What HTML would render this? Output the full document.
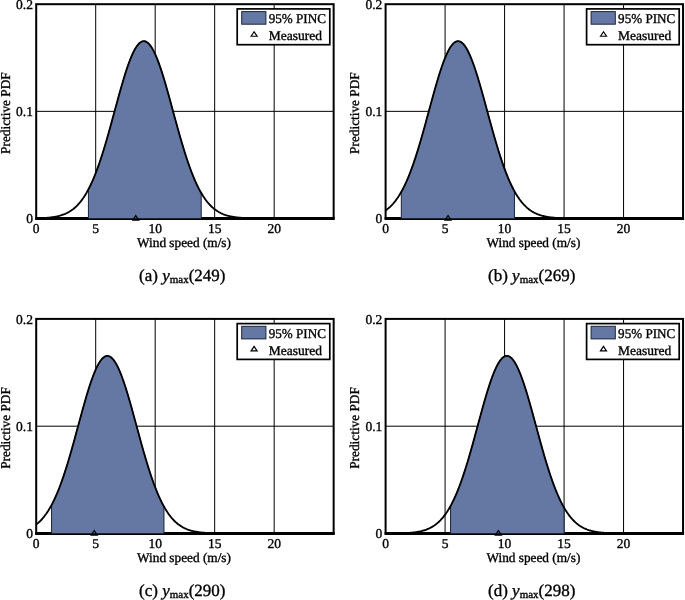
<!DOCTYPE html><html><head><meta charset="utf-8"><style>html,body{margin:0;padding:0;background:#fff;overflow:hidden;}svg{display:block;will-change:transform;}text{font-family:"Liberation Serif",serif;text-rendering:geometricPrecision;fill:#000;stroke:#000;stroke-width:0.35px;}</style></head><body>
<svg width="685" height="600" viewBox="0 0 685 600">
<rect x="36.20" y="4.20" width="297.45" height="214.30" fill="none" stroke="#000" stroke-width="2"/>
<line x1="35.20" y1="218.50" x2="334.65" y2="218.50" stroke="#000" stroke-width="2.8"/>
<line x1="95.69" y1="4.20" x2="95.69" y2="218.50" stroke="#000" stroke-width="1"/>
<line x1="155.18" y1="4.20" x2="155.18" y2="218.50" stroke="#000" stroke-width="1"/>
<line x1="214.67" y1="4.20" x2="214.67" y2="218.50" stroke="#000" stroke-width="1"/>
<line x1="274.16" y1="4.20" x2="274.16" y2="218.50" stroke="#000" stroke-width="1"/>
<line x1="36.20" y1="111.35" x2="333.65" y2="111.35" stroke="#000" stroke-width="1"/>
<path d="M88.43,218.50 L88.43,189.33 L89.00,188.25 L89.56,187.13 L90.12,185.99 L90.69,184.81 L91.25,183.61 L91.82,182.38 L92.38,181.12 L92.94,179.83 L93.51,178.51 L94.07,177.16 L94.64,175.78 L95.20,174.37 L95.76,172.93 L96.33,171.46 L96.89,169.96 L97.46,168.44 L98.02,166.88 L98.58,165.30 L99.15,163.69 L99.71,162.05 L100.28,160.38 L100.84,158.69 L101.40,156.97 L101.97,155.23 L102.53,153.46 L103.10,151.66 L103.66,149.84 L104.22,148.00 L104.79,146.14 L105.35,144.26 L105.92,142.35 L106.48,140.42 L107.04,138.48 L107.61,136.52 L108.17,134.54 L108.73,132.55 L109.30,130.54 L109.86,128.52 L110.43,126.48 L110.99,124.44 L111.55,122.38 L112.12,120.32 L112.68,118.25 L113.25,116.18 L113.81,114.10 L114.37,112.02 L114.94,109.94 L115.50,107.86 L116.07,105.78 L116.63,103.71 L117.19,101.64 L117.76,99.58 L118.32,97.53 L118.89,95.49 L119.45,93.46 L120.01,91.44 L120.58,89.44 L121.14,87.46 L121.71,85.50 L122.27,83.56 L122.83,81.64 L123.40,79.75 L123.96,77.88 L124.53,76.04 L125.09,74.23 L125.65,72.46 L126.22,70.71 L126.78,69.00 L127.35,67.33 L127.91,65.70 L128.47,64.11 L129.04,62.56 L129.60,61.05 L130.17,59.59 L130.73,58.17 L131.29,56.80 L131.86,55.48 L132.42,54.21 L132.99,53.00 L133.55,51.83 L134.11,50.73 L134.68,49.67 L135.24,48.68 L135.81,47.74 L136.37,46.86 L136.93,46.04 L137.50,45.29 L138.06,44.59 L138.63,43.96 L139.19,43.39 L139.75,42.88 L140.32,42.44 L140.88,42.06 L141.44,41.75 L142.01,41.51 L142.57,41.33 L143.14,41.22 L143.70,41.17 L144.26,41.19 L144.83,41.27 L145.39,41.43 L145.96,41.64 L146.52,41.93 L147.08,42.28 L147.65,42.69 L148.21,43.17 L148.78,43.71 L149.34,44.32 L149.90,44.99 L150.47,45.72 L151.03,46.52 L151.60,47.37 L152.16,48.28 L152.72,49.25 L153.29,50.28 L153.85,51.37 L154.42,52.51 L154.98,53.70 L155.54,54.95 L156.11,56.25 L156.67,57.60 L157.24,58.99 L157.80,60.44 L158.36,61.93 L158.93,63.46 L159.49,65.04 L160.06,66.65 L160.62,68.31 L161.18,70.00 L161.75,71.73 L162.31,73.50 L162.88,75.29 L163.44,77.12 L164.00,78.97 L164.57,80.86 L165.13,82.76 L165.70,84.70 L166.26,86.65 L166.82,88.62 L167.39,90.61 L167.95,92.62 L168.52,94.65 L169.08,96.68 L169.64,98.73 L170.21,100.79 L170.77,102.85 L171.34,104.93 L171.90,107.00 L172.46,109.08 L173.03,111.16 L173.59,113.24 L174.15,115.32 L174.72,117.40 L175.28,119.47 L175.85,121.53 L176.41,123.59 L176.97,125.64 L177.54,127.68 L178.10,129.70 L178.67,131.72 L179.23,133.72 L179.79,135.70 L180.36,137.67 L180.92,139.62 L181.49,141.56 L182.05,143.47 L182.61,145.36 L183.18,147.24 L183.74,149.09 L184.31,150.91 L184.87,152.72 L185.43,154.50 L186.00,156.25 L186.56,157.98 L187.13,159.69 L187.69,161.36 L188.25,163.01 L188.82,164.64 L189.38,166.23 L189.95,167.80 L190.51,169.34 L191.07,170.85 L191.64,172.33 L192.20,173.78 L192.77,175.20 L193.33,176.59 L193.89,177.95 L194.46,179.29 L195.02,180.59 L195.59,181.86 L196.15,183.11 L196.71,184.32 L197.28,185.51 L197.84,186.66 L198.41,187.79 L198.97,188.89 L199.53,189.96 L200.10,191.00 L200.66,192.01 L201.23,193.00 L201.23,218.50 Z" fill="#6478A3" stroke="#1c2438" stroke-width="1"/>
<path d="M36.20,218.31 L36.94,218.29 L37.69,218.27 L38.43,218.24 L39.17,218.22 L39.92,218.19 L40.66,218.16 L41.41,218.13 L42.15,218.10 L42.89,218.06 L43.64,218.02 L44.38,217.97 L45.12,217.93 L45.87,217.87 L46.61,217.82 L47.35,217.76 L48.10,217.69 L48.84,217.62 L49.59,217.55 L50.33,217.46 L51.07,217.38 L51.82,217.28 L52.56,217.18 L53.30,217.07 L54.05,216.95 L54.79,216.83 L55.53,216.69 L56.28,216.55 L57.02,216.39 L57.77,216.23 L58.51,216.05 L59.25,215.86 L60.00,215.66 L60.74,215.44 L61.48,215.22 L62.23,214.97 L62.97,214.71 L63.71,214.44 L64.46,214.14 L65.20,213.83 L65.94,213.50 L66.69,213.15 L67.43,212.78 L68.18,212.38 L68.92,211.97 L69.66,211.52 L70.41,211.06 L71.15,210.57 L71.89,210.05 L72.64,209.50 L73.38,208.93 L74.12,208.32 L74.87,207.69 L75.61,207.02 L76.36,206.32 L77.10,205.58 L77.84,204.81 L78.59,204.00 L79.33,203.15 L80.07,202.27 L80.82,201.34 L81.56,200.37 L82.30,199.36 L83.05,198.31 L83.79,197.22 L84.54,196.08 L85.28,194.89 L86.02,193.66 L86.77,192.38 L87.51,191.05 L88.25,189.67 L89.00,188.24 L89.74,186.77 L90.48,185.24 L91.23,183.66 L91.97,182.03 L92.72,180.35 L93.46,178.62 L94.20,176.84 L94.95,175.00 L95.69,173.12 L96.43,171.18 L97.18,169.19 L97.92,167.16 L98.66,165.07 L99.41,162.94 L100.15,160.75 L100.90,158.52 L101.64,156.25 L102.38,153.93 L103.13,151.56 L103.87,149.16 L104.61,146.72 L105.36,144.24 L106.10,141.72 L106.84,139.17 L107.59,136.58 L108.33,133.97 L109.08,131.34 L109.82,128.67 L110.56,125.99 L111.31,123.29 L112.05,120.57 L112.79,117.85 L113.54,115.11 L114.28,112.37 L115.02,109.62 L115.77,106.88 L116.51,104.15 L117.26,101.42 L118.00,98.70 L118.74,96.01 L119.49,93.33 L120.23,90.68 L120.97,88.05 L121.72,85.46 L122.46,82.91 L123.20,80.40 L123.95,77.93 L124.69,75.51 L125.44,73.14 L126.18,70.83 L126.92,68.59 L127.67,66.40 L128.41,64.29 L129.15,62.24 L129.90,60.28 L130.64,58.39 L131.38,56.59 L132.13,54.87 L132.87,53.24 L133.61,51.70 L134.36,50.26 L135.10,48.92 L135.85,47.68 L136.59,46.54 L137.33,45.50 L138.08,44.57 L138.82,43.75 L139.56,43.04 L140.31,42.45 L141.05,41.96 L141.79,41.59 L142.54,41.34 L143.28,41.20 L144.03,41.17 L144.77,41.26 L145.51,41.47 L146.26,41.79 L147.00,42.22 L147.74,42.77 L148.49,43.43 L149.23,44.20 L149.97,45.08 L150.72,46.07 L151.46,47.16 L152.21,48.36 L152.95,49.66 L153.69,51.06 L154.44,52.55 L155.18,54.14 L155.92,55.82 L156.67,57.59 L157.41,59.44 L158.15,61.37 L158.90,63.38 L159.64,65.46 L160.39,67.62 L161.13,69.84 L161.87,72.12 L162.62,74.46 L163.36,76.86 L164.10,79.30 L164.85,81.80 L165.59,84.33 L166.33,86.91 L167.08,89.52 L167.82,92.16 L168.57,94.83 L169.31,97.52 L170.05,100.22 L170.80,102.95 L171.54,105.68 L172.28,108.42 L173.03,111.16 L173.77,113.90 L174.51,116.64 L175.26,119.38 L176.00,122.10 L176.75,124.81 L177.49,127.50 L178.23,130.17 L178.98,132.82 L179.72,135.44 L180.46,138.03 L181.21,140.60 L181.95,143.13 L182.69,145.63 L183.44,148.09 L184.18,150.51 L184.93,152.89 L185.67,155.23 L186.41,157.53 L187.16,159.78 L187.90,161.98 L188.64,164.14 L189.39,166.25 L190.13,168.30 L190.87,170.31 L191.62,172.27 L192.36,174.18 L193.10,176.04 L193.85,177.84 L194.59,179.60 L195.34,181.30 L196.08,182.95 L196.82,184.55 L197.57,186.10 L198.31,187.60 L199.05,189.05 L199.80,190.45 L200.54,191.80 L201.28,193.10 L202.03,194.35 L202.77,195.56 L203.52,196.72 L204.26,197.84 L205.00,198.91 L205.75,199.93 L206.49,200.92 L207.23,201.86 L207.98,202.77 L208.72,203.63 L209.46,204.46 L210.21,205.24 L210.95,206.00 L211.70,206.71 L212.44,207.40 L213.18,208.05 L213.93,208.67 L214.67,209.25 L215.41,209.81 L216.16,210.34 L216.90,210.85 L217.64,211.32 L218.39,211.77 L219.13,212.20 L219.88,212.60 L220.62,212.99 L221.36,213.35 L222.11,213.69 L222.85,214.01 L223.59,214.31 L224.34,214.59 L225.08,214.86 L225.82,215.11 L226.57,215.35 L227.31,215.57 L228.06,215.77 L228.80,215.97 L229.54,216.15 L230.29,216.32 L231.03,216.48 L231.77,216.63 L232.52,216.77 L233.26,216.90 L234.00,217.02 L234.75,217.13 L235.49,217.24 L236.24,217.34 L236.98,217.43 L237.72,217.51 L238.47,217.59 L239.21,217.66 L239.95,217.73 L240.70,217.79 L241.44,217.85 L242.18,217.90 L242.93,217.95 L243.67,218.00 L244.42,218.04 L245.16,218.08 L245.90,218.11 L246.65,218.15 L247.39,218.18 L248.13,218.21 L248.88,218.23 L249.62,218.26 L250.36,218.28 L251.11,218.30 L251.85,218.32 L252.59,218.33 L253.34,218.35 L254.08,218.36 L254.83,218.37 L255.57,218.39 L256.31,218.40 L257.06,218.41 L257.80,218.42 L258.54,218.42 L259.29,218.43 L260.03,218.44 L260.77,218.44 L261.52,218.45 L262.26,218.45 L263.01,218.46 L263.75,218.46 L264.49,218.47 L265.24,218.47 L265.98,218.47 L266.72,218.48 L267.47,218.48 L268.21,218.48 L268.95,218.48 L269.70,218.48 L270.44,218.49 L271.19,218.49 L271.93,218.49 L272.67,218.49 L273.42,218.49 L274.16,218.49 L274.90,218.49 L275.65,218.49 L276.39,218.49 L277.13,218.49 L277.88,218.50 L278.62,218.50 L279.37,218.50 L280.11,218.50 L280.85,218.50 L281.60,218.50 L282.34,218.50 L283.08,218.50 L283.83,218.50 L284.57,218.50 L285.31,218.50 L286.06,218.50 L286.80,218.50 L287.55,218.50 L288.29,218.50 L289.03,218.50 L289.78,218.50 L290.52,218.50 L291.26,218.50 L292.01,218.50 L292.75,218.50 L293.49,218.50 L294.24,218.50 L294.98,218.50 L295.73,218.50 L296.47,218.50 L297.21,218.50 L297.96,218.50 L298.70,218.50 L299.44,218.50 L300.19,218.50 L300.93,218.50 L301.67,218.50 L302.42,218.50 L303.16,218.50 L303.90,218.50 L304.65,218.50 L305.39,218.50 L306.14,218.50 L306.88,218.50 L307.62,218.50 L308.37,218.50 L309.11,218.50 L309.85,218.50 L310.60,218.50 L311.34,218.50 L312.08,218.50 L312.83,218.50 L313.57,218.50 L314.32,218.50 L315.06,218.50 L315.80,218.50 L316.55,218.50 L317.29,218.50 L318.03,218.50 L318.78,218.50 L319.52,218.50 L320.26,218.50 L321.01,218.50 L321.75,218.50 L322.50,218.50 L323.24,218.50 L323.98,218.50 L324.73,218.50 L325.47,218.50 L326.21,218.50 L326.96,218.50 L327.70,218.50 L328.44,218.50 L329.19,218.50 L329.93,218.50 L330.68,218.50 L331.42,218.50 L332.16,218.50 L332.91,218.50 L333.65,218.50" fill="none" stroke="#000" stroke-width="1.85" stroke-linejoin="round"/>
<path d="M132.79,220.05 L135.79,215.55 L138.79,220.05 Z" fill="none" stroke="#000" stroke-width="1.2" stroke-linejoin="miter"/>
<rect x="237.20" y="8.90" width="92.60" height="35.80" fill="#fff" stroke="#000" stroke-width="1.7"/>
<rect x="241.70" y="11.60" width="24.2" height="12.6" fill="#6478A3" stroke="#1c2438" stroke-width="1"/>
<text x="268.70" y="22.80" font-size="13.5" textLength="57.2" lengthAdjust="spacingAndGlyphs">95% PINC</text>
<path d="M251.10,36.25 L254.10,31.75 L257.10,36.25 Z" fill="none" stroke="#000" stroke-width="1.2" stroke-linejoin="miter"/>
<text x="268.70" y="40.30" font-size="13.5">Measured</text>
<text x="32.90" y="223.40" font-size="13.5" text-anchor="end">0</text>
<text x="32.90" y="116.25" font-size="13.5" text-anchor="end">0.1</text>
<text x="32.90" y="9.10" font-size="13.5" text-anchor="end">0.2</text>
<text x="36.20" y="232.60" font-size="13.5" text-anchor="middle">0</text>
<text x="95.69" y="232.60" font-size="13.5" text-anchor="middle">5</text>
<text x="155.18" y="232.60" font-size="13.5" text-anchor="middle">10</text>
<text x="214.67" y="232.60" font-size="13.5" text-anchor="middle">15</text>
<text x="274.16" y="232.60" font-size="13.5" text-anchor="middle">20</text>
<text x="184.02" y="247.20" font-size="13.5" text-anchor="middle" textLength="93.9" lengthAdjust="spacingAndGlyphs">Wind speed (m/s)</text>
<text transform="translate(10.00,113.10) rotate(-90)" font-size="13.5" text-anchor="middle" textLength="81.6" lengthAdjust="spacingAndGlyphs">Predictive PDF</text>
<text x="182.32" y="281.10" font-size="17" text-anchor="middle">(a) <tspan font-style="italic">y</tspan><tspan font-size="11" dy="1.6">max</tspan><tspan dy="-1.6">(249)</tspan></text>
<rect x="385.60" y="4.20" width="297.45" height="214.30" fill="none" stroke="#000" stroke-width="2"/>
<line x1="384.60" y1="218.50" x2="684.05" y2="218.50" stroke="#000" stroke-width="2.8"/>
<line x1="445.09" y1="4.20" x2="445.09" y2="218.50" stroke="#000" stroke-width="1"/>
<line x1="504.58" y1="4.20" x2="504.58" y2="218.50" stroke="#000" stroke-width="1"/>
<line x1="564.07" y1="4.20" x2="564.07" y2="218.50" stroke="#000" stroke-width="1"/>
<line x1="623.56" y1="4.20" x2="623.56" y2="218.50" stroke="#000" stroke-width="1"/>
<line x1="385.60" y1="111.35" x2="683.05" y2="111.35" stroke="#000" stroke-width="1"/>
<path d="M401.31,218.50 L401.31,191.85 L401.87,190.83 L402.44,189.78 L403.00,188.70 L403.57,187.60 L404.13,186.46 L404.70,185.30 L405.27,184.10 L405.83,182.88 L406.40,181.62 L406.96,180.34 L407.53,179.03 L408.09,177.68 L408.66,176.31 L409.23,174.91 L409.79,173.48 L410.36,172.02 L410.92,170.52 L411.49,169.00 L412.05,167.46 L412.62,165.88 L413.19,164.27 L413.75,162.64 L414.32,160.98 L414.88,159.29 L415.45,157.57 L416.01,155.83 L416.58,154.06 L417.15,152.27 L417.71,150.46 L418.28,148.62 L418.84,146.75 L419.41,144.87 L419.98,142.96 L420.54,141.04 L421.11,139.10 L421.67,137.13 L422.24,135.15 L422.80,133.16 L423.37,131.15 L423.94,129.12 L424.50,127.09 L425.07,125.04 L425.63,122.98 L426.20,120.91 L426.76,118.84 L427.33,116.76 L427.90,114.68 L428.46,112.59 L429.03,110.51 L429.59,108.42 L430.16,106.33 L430.72,104.25 L431.29,102.18 L431.86,100.11 L432.42,98.04 L432.99,95.99 L433.55,93.96 L434.12,91.93 L434.68,89.92 L435.25,87.93 L435.82,85.96 L436.38,84.00 L436.95,82.07 L437.51,80.17 L438.08,78.29 L438.64,76.44 L439.21,74.62 L439.78,72.83 L440.34,71.07 L440.91,69.35 L441.47,67.67 L442.04,66.02 L442.61,64.41 L443.17,62.85 L443.74,61.33 L444.30,59.85 L444.87,58.42 L445.43,57.04 L446.00,55.71 L446.57,54.43 L447.13,53.20 L447.70,52.02 L448.26,50.90 L448.83,49.84 L449.39,48.83 L449.96,47.88 L450.53,46.99 L451.09,46.16 L451.66,45.39 L452.22,44.69 L452.79,44.04 L453.35,43.46 L453.92,42.95 L454.49,42.49 L455.05,42.11 L455.62,41.79 L456.18,41.53 L456.75,41.35 L457.31,41.22 L457.88,41.17 L458.45,41.18 L459.01,41.26 L459.58,41.41 L460.14,41.62 L460.71,41.90 L461.27,42.24 L461.84,42.65 L462.41,43.13 L462.97,43.67 L463.54,44.27 L464.10,44.94 L464.67,45.67 L465.24,46.46 L465.80,47.31 L466.37,48.22 L466.93,49.20 L467.50,50.22 L468.06,51.31 L468.63,52.45 L469.20,53.65 L469.76,54.90 L470.33,56.20 L470.89,57.55 L471.46,58.95 L472.02,60.39 L472.59,61.89 L473.16,63.42 L473.72,65.00 L474.29,66.62 L474.85,68.28 L475.42,69.98 L475.98,71.72 L476.55,73.49 L477.12,75.29 L477.68,77.12 L478.25,78.98 L478.81,80.87 L479.38,82.78 L479.94,84.72 L480.51,86.68 L481.08,88.66 L481.64,90.66 L482.21,92.68 L482.77,94.71 L483.34,96.75 L483.90,98.80 L484.47,100.87 L485.04,102.94 L485.60,105.02 L486.17,107.10 L486.73,109.19 L487.30,111.28 L487.87,113.36 L488.43,115.45 L489.00,117.53 L489.56,119.61 L490.13,121.68 L490.69,123.74 L491.26,125.80 L491.83,127.84 L492.39,129.87 L492.96,131.89 L493.52,133.90 L494.09,135.89 L494.65,137.86 L495.22,139.82 L495.79,141.75 L496.35,143.67 L496.92,145.57 L497.48,147.44 L498.05,149.30 L498.61,151.13 L499.18,152.94 L499.75,154.72 L500.31,156.48 L500.88,158.21 L501.44,159.91 L502.01,161.59 L502.57,163.24 L503.14,164.87 L503.71,166.46 L504.27,168.03 L504.84,169.57 L505.40,171.08 L505.97,172.56 L506.53,174.01 L507.10,175.43 L507.67,176.82 L508.23,178.18 L508.80,179.52 L509.36,180.82 L509.93,182.09 L510.50,183.33 L511.06,184.55 L511.63,185.73 L512.19,186.88 L512.76,188.01 L513.32,189.10 L513.89,190.17 L514.46,191.21 L514.46,218.50 Z" fill="#6478A3" stroke="#1c2438" stroke-width="1"/>
<path d="M385.60,210.43 L386.34,209.90 L387.09,209.35 L387.83,208.76 L388.57,208.15 L389.32,207.50 L390.06,206.83 L390.81,206.11 L391.55,205.37 L392.29,204.58 L393.04,203.77 L393.78,202.91 L394.52,202.01 L395.27,201.07 L396.01,200.09 L396.75,199.07 L397.50,198.01 L398.24,196.90 L398.99,195.75 L399.73,194.55 L400.47,193.30 L401.22,192.01 L401.96,190.67 L402.70,189.28 L403.45,187.84 L404.19,186.35 L404.93,184.80 L405.68,183.21 L406.42,181.57 L407.17,179.87 L407.91,178.13 L408.65,176.33 L409.40,174.48 L410.14,172.58 L410.88,170.63 L411.63,168.63 L412.37,166.58 L413.11,164.48 L413.86,162.33 L414.60,160.13 L415.35,157.89 L416.09,155.60 L416.83,153.27 L417.58,150.89 L418.32,148.48 L419.06,146.03 L419.81,143.53 L420.55,141.01 L421.29,138.45 L422.04,135.86 L422.78,133.24 L423.52,130.59 L424.27,127.93 L425.01,125.24 L425.76,122.53 L426.50,119.81 L427.24,117.08 L427.99,114.34 L428.73,111.60 L429.47,108.86 L430.22,106.12 L430.96,103.38 L431.70,100.66 L432.45,97.95 L433.19,95.26 L433.94,92.58 L434.68,89.94 L435.42,87.33 L436.17,84.74 L436.91,82.20 L437.65,79.70 L438.40,77.25 L439.14,74.84 L439.88,72.49 L440.63,70.20 L441.37,67.97 L442.12,65.80 L442.86,63.71 L443.60,61.69 L444.35,59.74 L445.09,57.88 L445.83,56.10 L446.58,54.40 L447.32,52.80 L448.06,51.29 L448.81,49.88 L449.55,48.56 L450.30,47.35 L451.04,46.23 L451.78,45.23 L452.53,44.33 L453.27,43.54 L454.01,42.87 L454.76,42.30 L455.50,41.85 L456.24,41.51 L456.99,41.29 L457.73,41.18 L458.48,41.18 L459.22,41.31 L459.96,41.54 L460.71,41.90 L461.45,42.36 L462.19,42.94 L462.94,43.63 L463.68,44.43 L464.42,45.34 L465.17,46.36 L465.91,47.49 L466.66,48.71 L467.40,50.04 L468.14,51.47 L468.89,52.99 L469.63,54.60 L470.37,56.31 L471.12,58.10 L471.86,59.97 L472.60,61.92 L473.35,63.95 L474.09,66.06 L474.84,68.23 L475.58,70.47 L476.32,72.77 L477.07,75.13 L477.81,77.54 L478.55,80.00 L479.30,82.50 L480.04,85.05 L480.78,87.64 L481.53,90.26 L482.27,92.90 L483.01,95.58 L483.76,98.27 L484.50,100.98 L485.25,103.71 L485.99,106.44 L486.73,109.19 L487.48,111.93 L488.22,114.67 L488.96,117.41 L489.71,120.14 L490.45,122.86 L491.19,125.56 L491.94,128.25 L492.68,130.91 L493.43,133.55 L494.17,136.17 L494.91,138.76 L495.66,141.31 L496.40,143.83 L497.14,146.32 L497.89,148.77 L498.63,151.18 L499.37,153.55 L500.12,155.88 L500.86,158.16 L501.61,160.40 L502.35,162.59 L503.09,164.73 L503.84,166.83 L504.58,168.87 L505.32,170.87 L506.07,172.81 L506.81,174.71 L507.55,176.55 L508.30,178.34 L509.04,180.08 L509.79,181.77 L510.53,183.41 L511.27,184.99 L512.02,186.53 L512.76,188.01 L513.50,189.45 L514.25,190.83 L514.99,192.17 L515.73,193.46 L516.48,194.70 L517.22,195.89 L517.97,197.04 L518.71,198.14 L519.45,199.20 L520.20,200.21 L520.94,201.19 L521.68,202.12 L522.43,203.01 L523.17,203.87 L523.91,204.68 L524.66,205.46 L525.40,206.20 L526.15,206.91 L526.89,207.58 L527.63,208.22 L528.38,208.83 L529.12,209.41 L529.86,209.96 L530.61,210.49 L531.35,210.98 L532.09,211.45 L532.84,211.90 L533.58,212.32 L534.33,212.71 L535.07,213.09 L535.81,213.44 L536.56,213.78 L537.30,214.09 L538.04,214.39 L538.79,214.67 L539.53,214.93 L540.27,215.18 L541.02,215.41 L541.76,215.63 L542.50,215.83 L543.25,216.02 L543.99,216.20 L544.74,216.37 L545.48,216.52 L546.22,216.67 L546.97,216.81 L547.71,216.93 L548.45,217.05 L549.20,217.16 L549.94,217.27 L550.68,217.36 L551.43,217.45 L552.17,217.53 L552.92,217.61 L553.66,217.68 L554.40,217.75 L555.15,217.81 L555.89,217.86 L556.63,217.92 L557.38,217.97 L558.12,218.01 L558.86,218.05 L559.61,218.09 L560.35,218.12 L561.10,218.16 L561.84,218.19 L562.58,218.21 L563.33,218.24 L564.07,218.26 L564.81,218.28 L565.56,218.30 L566.30,218.32 L567.04,218.34 L567.79,218.35 L568.53,218.37 L569.28,218.38 L570.02,218.39 L570.76,218.40 L571.51,218.41 L572.25,218.42 L572.99,218.43 L573.74,218.43 L574.48,218.44 L575.22,218.44 L575.97,218.45 L576.71,218.46 L577.46,218.46 L578.20,218.46 L578.94,218.47 L579.69,218.47 L580.43,218.47 L581.17,218.48 L581.92,218.48 L582.66,218.48 L583.40,218.48 L584.15,218.48 L584.89,218.49 L585.64,218.49 L586.38,218.49 L587.12,218.49 L587.87,218.49 L588.61,218.49 L589.35,218.49 L590.10,218.49 L590.84,218.49 L591.58,218.50 L592.33,218.50 L593.07,218.50 L593.82,218.50 L594.56,218.50 L595.30,218.50 L596.05,218.50 L596.79,218.50 L597.53,218.50 L598.28,218.50 L599.02,218.50 L599.76,218.50 L600.51,218.50 L601.25,218.50 L601.99,218.50 L602.74,218.50 L603.48,218.50 L604.23,218.50 L604.97,218.50 L605.71,218.50 L606.46,218.50 L607.20,218.50 L607.94,218.50 L608.69,218.50 L609.43,218.50 L610.17,218.50 L610.92,218.50 L611.66,218.50 L612.41,218.50 L613.15,218.50 L613.89,218.50 L614.64,218.50 L615.38,218.50 L616.12,218.50 L616.87,218.50 L617.61,218.50 L618.35,218.50 L619.10,218.50 L619.84,218.50 L620.59,218.50 L621.33,218.50 L622.07,218.50 L622.82,218.50 L623.56,218.50 L624.30,218.50 L625.05,218.50 L625.79,218.50 L626.53,218.50 L627.28,218.50 L628.02,218.50 L628.77,218.50 L629.51,218.50 L630.25,218.50 L631.00,218.50 L631.74,218.50 L632.48,218.50 L633.23,218.50 L633.97,218.50 L634.71,218.50 L635.46,218.50 L636.20,218.50 L636.95,218.50 L637.69,218.50 L638.43,218.50 L639.18,218.50 L639.92,218.50 L640.66,218.50 L641.41,218.50 L642.15,218.50 L642.89,218.50 L643.64,218.50 L644.38,218.50 L645.13,218.50 L645.87,218.50 L646.61,218.50 L647.36,218.50 L648.10,218.50 L648.84,218.50 L649.59,218.50 L650.33,218.50 L651.07,218.50 L651.82,218.50 L652.56,218.50 L653.30,218.50 L654.05,218.50 L654.79,218.50 L655.54,218.50 L656.28,218.50 L657.02,218.50 L657.77,218.50 L658.51,218.50 L659.25,218.50 L660.00,218.50 L660.74,218.50 L661.48,218.50 L662.23,218.50 L662.97,218.50 L663.72,218.50 L664.46,218.50 L665.20,218.50 L665.95,218.50 L666.69,218.50 L667.43,218.50 L668.18,218.50 L668.92,218.50 L669.66,218.50 L670.41,218.50 L671.15,218.50 L671.90,218.50 L672.64,218.50 L673.38,218.50 L674.13,218.50 L674.87,218.50 L675.61,218.50 L676.36,218.50 L677.10,218.50 L677.84,218.50 L678.59,218.50 L679.33,218.50 L680.08,218.50 L680.82,218.50 L681.56,218.50 L682.31,218.50 L683.05,218.50" fill="none" stroke="#000" stroke-width="1.85" stroke-linejoin="round"/>
<path d="M445.06,220.05 L448.06,215.55 L451.06,220.05 Z" fill="none" stroke="#000" stroke-width="1.2" stroke-linejoin="miter"/>
<rect x="586.60" y="8.90" width="92.60" height="35.80" fill="#fff" stroke="#000" stroke-width="1.7"/>
<rect x="591.10" y="11.60" width="24.2" height="12.6" fill="#6478A3" stroke="#1c2438" stroke-width="1"/>
<text x="618.10" y="22.80" font-size="13.5" textLength="57.2" lengthAdjust="spacingAndGlyphs">95% PINC</text>
<path d="M600.50,36.25 L603.50,31.75 L606.50,36.25 Z" fill="none" stroke="#000" stroke-width="1.2" stroke-linejoin="miter"/>
<text x="618.10" y="40.30" font-size="13.5">Measured</text>
<text x="382.30" y="223.40" font-size="13.5" text-anchor="end">0</text>
<text x="382.30" y="116.25" font-size="13.5" text-anchor="end">0.1</text>
<text x="382.30" y="9.10" font-size="13.5" text-anchor="end">0.2</text>
<text x="385.60" y="232.60" font-size="13.5" text-anchor="middle">0</text>
<text x="445.09" y="232.60" font-size="13.5" text-anchor="middle">5</text>
<text x="504.58" y="232.60" font-size="13.5" text-anchor="middle">10</text>
<text x="564.07" y="232.60" font-size="13.5" text-anchor="middle">15</text>
<text x="623.56" y="232.60" font-size="13.5" text-anchor="middle">20</text>
<text x="533.43" y="247.20" font-size="13.5" text-anchor="middle" textLength="93.9" lengthAdjust="spacingAndGlyphs">Wind speed (m/s)</text>
<text transform="translate(359.40,113.10) rotate(-90)" font-size="13.5" text-anchor="middle" textLength="81.6" lengthAdjust="spacingAndGlyphs">Predictive PDF</text>
<text x="531.73" y="281.10" font-size="17" text-anchor="middle">(b) <tspan font-style="italic">y</tspan><tspan font-size="11" dy="1.6">max</tspan><tspan dy="-1.6">(269)</tspan></text>
<rect x="36.20" y="318.90" width="297.45" height="214.60" fill="none" stroke="#000" stroke-width="2"/>
<line x1="35.20" y1="533.50" x2="334.65" y2="533.50" stroke="#000" stroke-width="2.8"/>
<line x1="95.69" y1="318.90" x2="95.69" y2="533.50" stroke="#000" stroke-width="1"/>
<line x1="155.18" y1="318.90" x2="155.18" y2="533.50" stroke="#000" stroke-width="1"/>
<line x1="214.67" y1="318.90" x2="214.67" y2="533.50" stroke="#000" stroke-width="1"/>
<line x1="274.16" y1="318.90" x2="274.16" y2="533.50" stroke="#000" stroke-width="1"/>
<line x1="36.20" y1="426.20" x2="333.65" y2="426.20" stroke="#000" stroke-width="1"/>
<path d="M51.55,533.50 L51.55,505.08 L52.11,504.01 L52.67,502.92 L53.23,501.80 L53.80,500.65 L54.36,499.47 L54.92,498.27 L55.48,497.03 L56.05,495.76 L56.61,494.47 L57.17,493.14 L57.73,491.79 L58.29,490.40 L58.86,488.99 L59.42,487.55 L59.98,486.08 L60.54,484.58 L61.11,483.05 L61.67,481.49 L62.23,479.90 L62.79,478.29 L63.35,476.65 L63.92,474.98 L64.48,473.28 L65.04,471.56 L65.60,469.82 L66.17,468.05 L66.73,466.25 L67.29,464.43 L67.85,462.59 L68.41,460.73 L68.98,458.84 L69.54,456.94 L70.10,455.01 L70.66,453.07 L71.22,451.11 L71.79,449.13 L72.35,447.14 L72.91,445.13 L73.47,443.11 L74.04,441.08 L74.60,439.04 L75.16,436.98 L75.72,434.93 L76.28,432.86 L76.85,430.79 L77.41,428.71 L77.97,426.64 L78.53,424.56 L79.10,422.48 L79.66,420.41 L80.22,418.34 L80.78,416.28 L81.34,414.22 L81.91,412.17 L82.47,410.14 L83.03,408.11 L83.59,406.10 L84.15,404.11 L84.72,402.13 L85.28,400.17 L85.84,398.24 L86.40,396.33 L86.97,394.44 L87.53,392.57 L88.09,390.74 L88.65,388.94 L89.21,387.16 L89.78,385.43 L90.34,383.72 L90.90,382.06 L91.46,380.43 L92.03,378.84 L92.59,377.29 L93.15,375.79 L93.71,374.33 L94.27,372.92 L94.84,371.55 L95.40,370.23 L95.96,368.97 L96.52,367.76 L97.09,366.59 L97.65,365.49 L98.21,364.44 L98.77,363.44 L99.33,362.51 L99.90,361.63 L100.46,360.81 L101.02,360.06 L101.58,359.36 L102.14,358.73 L102.71,358.16 L103.27,357.65 L103.83,357.21 L104.39,356.83 L104.96,356.52 L105.52,356.27 L106.08,356.09 L106.64,355.97 L107.20,355.92 L107.77,355.94 L108.33,356.02 L108.89,356.17 L109.45,356.38 L110.02,356.66 L110.58,357.00 L111.14,357.41 L111.70,357.89 L112.26,358.42 L112.83,359.02 L113.39,359.69 L113.95,360.41 L114.51,361.20 L115.07,362.05 L115.64,362.95 L116.20,363.92 L116.76,364.94 L117.32,366.01 L117.89,367.15 L118.45,368.33 L119.01,369.57 L119.57,370.86 L120.13,372.20 L120.70,373.59 L121.26,375.02 L121.82,376.51 L122.38,378.03 L122.95,379.60 L123.51,381.21 L124.07,382.85 L124.63,384.54 L125.19,386.26 L125.76,388.01 L126.32,389.80 L126.88,391.62 L127.44,393.47 L128.00,395.34 L128.57,397.24 L129.13,399.17 L129.69,401.11 L130.25,403.08 L130.82,405.07 L131.38,407.07 L131.94,409.08 L132.50,411.12 L133.06,413.16 L133.63,415.21 L134.19,417.27 L134.75,419.34 L135.31,421.41 L135.88,423.48 L136.44,425.56 L137.00,427.64 L137.56,429.71 L138.12,431.79 L138.69,433.85 L139.25,435.92 L139.81,437.97 L140.37,440.02 L140.94,442.06 L141.50,444.08 L142.06,446.10 L142.62,448.10 L143.18,450.08 L143.75,452.05 L144.31,454.00 L144.87,455.94 L145.43,457.85 L145.99,459.75 L146.56,461.63 L147.12,463.48 L147.68,465.31 L148.24,467.12 L148.81,468.90 L149.37,470.66 L149.93,472.40 L150.49,474.10 L151.05,475.79 L151.62,477.44 L152.18,479.07 L152.74,480.67 L153.30,482.24 L153.87,483.79 L154.43,485.30 L154.99,486.79 L155.55,488.25 L156.11,489.68 L156.68,491.07 L157.24,492.44 L157.80,493.78 L158.36,495.10 L158.92,496.38 L159.49,497.63 L160.05,498.85 L160.61,500.04 L161.17,501.21 L161.74,502.34 L162.30,503.45 L162.86,504.53 L163.42,505.58 L163.98,506.60 L163.98,533.50 Z" fill="#6478A3" stroke="#1c2438" stroke-width="1"/>
<path d="M36.20,524.47 L36.94,523.89 L37.69,523.28 L38.43,522.65 L39.17,521.98 L39.92,521.27 L40.66,520.53 L41.41,519.76 L42.15,518.94 L42.89,518.10 L43.64,517.21 L44.38,516.28 L45.12,515.31 L45.87,514.30 L46.61,513.24 L47.35,512.14 L48.10,511.00 L48.84,509.81 L49.59,508.57 L50.33,507.29 L51.07,505.96 L51.82,504.57 L52.56,503.14 L53.30,501.66 L54.05,500.13 L54.79,498.55 L55.53,496.92 L56.28,495.23 L57.02,493.50 L57.77,491.71 L58.51,489.87 L59.25,487.98 L60.00,486.04 L60.74,484.05 L61.48,482.00 L62.23,479.91 L62.97,477.77 L63.71,475.58 L64.46,473.35 L65.20,471.07 L65.94,468.74 L66.69,466.37 L67.43,463.97 L68.18,461.52 L68.92,459.03 L69.66,456.51 L70.41,453.95 L71.15,451.37 L71.89,448.75 L72.64,446.11 L73.38,443.44 L74.12,440.75 L74.87,438.05 L75.61,435.33 L76.36,432.60 L77.10,429.86 L77.84,427.11 L78.59,424.36 L79.33,421.62 L80.07,418.88 L80.82,416.15 L81.56,413.43 L82.30,410.73 L83.05,408.05 L83.79,405.39 L84.54,402.77 L85.28,400.17 L86.02,397.62 L86.77,395.10 L87.51,392.63 L88.25,390.21 L89.00,387.85 L89.74,385.54 L90.48,383.29 L91.23,381.10 L91.97,378.99 L92.72,376.95 L93.46,374.98 L94.20,373.09 L94.95,371.29 L95.69,369.57 L96.43,367.94 L97.18,366.41 L97.92,364.97 L98.66,363.63 L99.41,362.39 L100.15,361.25 L100.90,360.22 L101.64,359.29 L102.38,358.48 L103.13,357.77 L103.87,357.18 L104.61,356.70 L105.36,356.33 L106.10,356.08 L106.84,355.95 L107.59,355.92 L108.33,356.02 L109.08,356.23 L109.82,356.55 L110.56,356.99 L111.31,357.55 L112.05,358.21 L112.79,358.99 L113.54,359.87 L114.28,360.87 L115.02,361.97 L115.77,363.17 L116.51,364.48 L117.26,365.88 L118.00,367.38 L118.74,368.98 L119.49,370.66 L120.23,372.43 L120.97,374.29 L121.72,376.23 L122.46,378.24 L123.20,380.33 L123.95,382.49 L124.69,384.72 L125.44,387.01 L126.18,389.35 L126.92,391.76 L127.67,394.21 L128.41,396.71 L129.15,399.25 L129.90,401.83 L130.64,404.44 L131.38,407.09 L132.13,409.76 L132.87,412.45 L133.61,415.17 L134.36,417.89 L135.10,420.63 L135.85,423.37 L136.59,426.12 L137.33,428.87 L138.08,431.61 L138.82,434.35 L139.56,437.07 L140.31,439.78 L141.05,442.48 L141.79,445.15 L142.54,447.80 L143.28,450.43 L144.03,453.03 L144.77,455.59 L145.51,458.13 L146.26,460.63 L147.00,463.09 L147.74,465.51 L148.49,467.89 L149.23,470.24 L149.97,472.53 L150.72,474.78 L151.46,476.99 L152.21,479.15 L152.95,481.26 L153.69,483.32 L154.44,485.33 L155.18,487.29 L155.92,489.19 L156.67,491.05 L157.41,492.86 L158.15,494.61 L158.90,496.32 L159.64,497.97 L160.39,499.57 L161.13,501.12 L161.87,502.62 L162.62,504.07 L163.36,505.46 L164.10,506.81 L164.85,508.12 L165.59,509.37 L166.33,510.58 L167.08,511.74 L167.82,512.85 L168.57,513.92 L169.31,514.95 L170.05,515.93 L170.80,516.88 L171.54,517.78 L172.28,518.64 L173.03,519.47 L173.77,520.26 L174.51,521.01 L175.26,521.73 L176.00,522.41 L176.75,523.06 L177.49,523.68 L178.23,524.26 L178.98,524.82 L179.72,525.35 L180.46,525.86 L181.21,526.33 L181.95,526.78 L182.69,527.21 L183.44,527.61 L184.18,527.99 L184.93,528.35 L185.67,528.69 L186.41,529.01 L187.16,529.31 L187.90,529.60 L188.64,529.86 L189.39,530.12 L190.13,530.35 L190.87,530.57 L191.62,530.78 L192.36,530.97 L193.10,531.16 L193.85,531.33 L194.59,531.48 L195.34,531.63 L196.08,531.77 L196.82,531.90 L197.57,532.02 L198.31,532.14 L199.05,532.24 L199.80,532.34 L200.54,532.43 L201.28,532.51 L202.03,532.59 L202.77,532.66 L203.52,532.73 L204.26,532.79 L205.00,532.85 L205.75,532.90 L206.49,532.95 L207.23,533.00 L207.98,533.04 L208.72,533.08 L209.46,533.12 L210.21,533.15 L210.95,533.18 L211.70,533.21 L212.44,533.23 L213.18,533.26 L213.93,533.28 L214.67,533.30 L215.41,533.32 L216.16,533.33 L216.90,533.35 L217.64,533.36 L218.39,533.37 L219.13,533.39 L219.88,533.40 L220.62,533.41 L221.36,533.42 L222.11,533.42 L222.85,533.43 L223.59,533.44 L224.34,533.44 L225.08,533.45 L225.82,533.45 L226.57,533.46 L227.31,533.46 L228.06,533.47 L228.80,533.47 L229.54,533.47 L230.29,533.48 L231.03,533.48 L231.77,533.48 L232.52,533.48 L233.26,533.48 L234.00,533.49 L234.75,533.49 L235.49,533.49 L236.24,533.49 L236.98,533.49 L237.72,533.49 L238.47,533.49 L239.21,533.49 L239.95,533.49 L240.70,533.49 L241.44,533.50 L242.18,533.50 L242.93,533.50 L243.67,533.50 L244.42,533.50 L245.16,533.50 L245.90,533.50 L246.65,533.50 L247.39,533.50 L248.13,533.50 L248.88,533.50 L249.62,533.50 L250.36,533.50 L251.11,533.50 L251.85,533.50 L252.59,533.50 L253.34,533.50 L254.08,533.50 L254.83,533.50 L255.57,533.50 L256.31,533.50 L257.06,533.50 L257.80,533.50 L258.54,533.50 L259.29,533.50 L260.03,533.50 L260.77,533.50 L261.52,533.50 L262.26,533.50 L263.01,533.50 L263.75,533.50 L264.49,533.50 L265.24,533.50 L265.98,533.50 L266.72,533.50 L267.47,533.50 L268.21,533.50 L268.95,533.50 L269.70,533.50 L270.44,533.50 L271.19,533.50 L271.93,533.50 L272.67,533.50 L273.42,533.50 L274.16,533.50 L274.90,533.50 L275.65,533.50 L276.39,533.50 L277.13,533.50 L277.88,533.50 L278.62,533.50 L279.37,533.50 L280.11,533.50 L280.85,533.50 L281.60,533.50 L282.34,533.50 L283.08,533.50 L283.83,533.50 L284.57,533.50 L285.31,533.50 L286.06,533.50 L286.80,533.50 L287.55,533.50 L288.29,533.50 L289.03,533.50 L289.78,533.50 L290.52,533.50 L291.26,533.50 L292.01,533.50 L292.75,533.50 L293.49,533.50 L294.24,533.50 L294.98,533.50 L295.73,533.50 L296.47,533.50 L297.21,533.50 L297.96,533.50 L298.70,533.50 L299.44,533.50 L300.19,533.50 L300.93,533.50 L301.67,533.50 L302.42,533.50 L303.16,533.50 L303.90,533.50 L304.65,533.50 L305.39,533.50 L306.14,533.50 L306.88,533.50 L307.62,533.50 L308.37,533.50 L309.11,533.50 L309.85,533.50 L310.60,533.50 L311.34,533.50 L312.08,533.50 L312.83,533.50 L313.57,533.50 L314.32,533.50 L315.06,533.50 L315.80,533.50 L316.55,533.50 L317.29,533.50 L318.03,533.50 L318.78,533.50 L319.52,533.50 L320.26,533.50 L321.01,533.50 L321.75,533.50 L322.50,533.50 L323.24,533.50 L323.98,533.50 L324.73,533.50 L325.47,533.50 L326.21,533.50 L326.96,533.50 L327.70,533.50 L328.44,533.50 L329.19,533.50 L329.93,533.50 L330.68,533.50 L331.42,533.50 L332.16,533.50 L332.91,533.50 L333.65,533.50" fill="none" stroke="#000" stroke-width="1.85" stroke-linejoin="round"/>
<path d="M91.26,535.05 L94.26,530.55 L97.26,535.05 Z" fill="none" stroke="#000" stroke-width="1.2" stroke-linejoin="miter"/>
<rect x="237.20" y="323.60" width="92.60" height="35.80" fill="#fff" stroke="#000" stroke-width="1.7"/>
<rect x="241.70" y="326.30" width="24.2" height="12.6" fill="#6478A3" stroke="#1c2438" stroke-width="1"/>
<text x="268.70" y="337.50" font-size="13.5" textLength="57.2" lengthAdjust="spacingAndGlyphs">95% PINC</text>
<path d="M251.10,350.95 L254.10,346.45 L257.10,350.95 Z" fill="none" stroke="#000" stroke-width="1.2" stroke-linejoin="miter"/>
<text x="268.70" y="355.00" font-size="13.5">Measured</text>
<text x="32.90" y="538.40" font-size="13.5" text-anchor="end">0</text>
<text x="32.90" y="431.10" font-size="13.5" text-anchor="end">0.1</text>
<text x="32.90" y="323.80" font-size="13.5" text-anchor="end">0.2</text>
<text x="36.20" y="547.60" font-size="13.5" text-anchor="middle">0</text>
<text x="95.69" y="547.60" font-size="13.5" text-anchor="middle">5</text>
<text x="155.18" y="547.60" font-size="13.5" text-anchor="middle">10</text>
<text x="214.67" y="547.60" font-size="13.5" text-anchor="middle">15</text>
<text x="274.16" y="547.60" font-size="13.5" text-anchor="middle">20</text>
<text x="184.02" y="562.20" font-size="13.5" text-anchor="middle" textLength="93.9" lengthAdjust="spacingAndGlyphs">Wind speed (m/s)</text>
<text transform="translate(10.00,427.95) rotate(-90)" font-size="13.5" text-anchor="middle" textLength="81.6" lengthAdjust="spacingAndGlyphs">Predictive PDF</text>
<text x="182.32" y="596.10" font-size="17" text-anchor="middle">(c) <tspan font-style="italic">y</tspan><tspan font-size="11" dy="1.6">max</tspan><tspan dy="-1.6">(290)</tspan></text>
<rect x="385.60" y="318.90" width="297.45" height="214.60" fill="none" stroke="#000" stroke-width="2"/>
<line x1="384.60" y1="533.50" x2="684.05" y2="533.50" stroke="#000" stroke-width="2.8"/>
<line x1="445.09" y1="318.90" x2="445.09" y2="533.50" stroke="#000" stroke-width="1"/>
<line x1="504.58" y1="318.90" x2="504.58" y2="533.50" stroke="#000" stroke-width="1"/>
<line x1="564.07" y1="318.90" x2="564.07" y2="533.50" stroke="#000" stroke-width="1"/>
<line x1="623.56" y1="318.90" x2="623.56" y2="533.50" stroke="#000" stroke-width="1"/>
<line x1="385.60" y1="426.20" x2="683.05" y2="426.20" stroke="#000" stroke-width="1"/>
<path d="M450.56,533.50 L450.56,505.96 L451.13,504.91 L451.70,503.83 L452.27,502.72 L452.83,501.58 L453.40,500.42 L453.97,499.22 L454.54,498.00 L455.10,496.74 L455.67,495.46 L456.24,494.14 L456.81,492.80 L457.37,491.42 L457.94,490.02 L458.51,488.58 L459.08,487.12 L459.64,485.62 L460.21,484.10 L460.78,482.54 L461.35,480.96 L461.91,479.35 L462.48,477.71 L463.05,476.05 L463.62,474.35 L464.18,472.63 L464.75,470.88 L465.32,469.11 L465.89,467.31 L466.45,465.49 L467.02,463.64 L467.59,461.77 L468.16,459.88 L468.72,457.97 L469.29,456.04 L469.86,454.08 L470.43,452.11 L470.99,450.13 L471.56,448.12 L472.13,446.10 L472.70,444.07 L473.26,442.02 L473.83,439.97 L474.40,437.90 L474.97,435.83 L475.53,433.74 L476.10,431.65 L476.67,429.56 L477.24,427.47 L477.80,425.37 L478.37,423.27 L478.94,421.18 L479.51,419.09 L480.07,417.00 L480.64,414.92 L481.21,412.85 L481.78,410.79 L482.35,408.74 L482.91,406.71 L483.48,404.69 L484.05,402.69 L484.62,400.71 L485.18,398.75 L485.75,396.81 L486.32,394.90 L486.89,393.01 L487.45,391.16 L488.02,389.33 L488.59,387.53 L489.16,385.77 L489.72,384.04 L490.29,382.35 L490.86,380.70 L491.43,379.09 L491.99,377.52 L492.56,376.00 L493.13,374.52 L493.70,373.09 L494.26,371.70 L494.83,370.37 L495.40,369.09 L495.97,367.86 L496.53,366.68 L497.10,365.56 L497.67,364.50 L498.24,363.49 L498.80,362.54 L499.37,361.65 L499.94,360.83 L500.51,360.06 L501.07,359.36 L501.64,358.72 L502.21,358.15 L502.78,357.64 L503.34,357.19 L503.91,356.81 L504.48,356.50 L505.05,356.25 L505.61,356.08 L506.18,355.96 L506.75,355.92 L507.32,355.94 L507.88,356.03 L508.45,356.19 L509.02,356.41 L509.59,356.70 L510.15,357.06 L510.72,357.49 L511.29,357.97 L511.86,358.53 L512.42,359.15 L512.99,359.83 L513.56,360.57 L514.13,361.38 L514.69,362.25 L515.26,363.18 L515.83,364.16 L516.40,365.21 L516.96,366.31 L517.53,367.47 L518.10,368.68 L518.67,369.95 L519.23,371.27 L519.80,372.63 L520.37,374.05 L520.94,375.52 L521.50,377.03 L522.07,378.58 L522.64,380.18 L523.21,381.82 L523.78,383.49 L524.34,385.21 L524.91,386.96 L525.48,388.74 L526.05,390.56 L526.61,392.41 L527.18,394.29 L527.75,396.19 L528.32,398.12 L528.88,400.08 L529.45,402.05 L530.02,404.04 L530.59,406.06 L531.15,408.09 L531.72,410.13 L532.29,412.19 L532.86,414.25 L533.42,416.33 L533.99,418.41 L534.56,420.50 L535.13,422.60 L535.69,424.69 L536.26,426.79 L536.83,428.89 L537.40,430.98 L537.96,433.07 L538.53,435.15 L539.10,437.23 L539.67,439.30 L540.23,441.36 L540.80,443.41 L541.37,445.45 L541.94,447.47 L542.50,449.48 L543.07,451.47 L543.64,453.45 L544.21,455.41 L544.77,457.35 L545.34,459.27 L545.91,461.17 L546.48,463.04 L547.04,464.90 L547.61,466.73 L548.18,468.53 L548.75,470.31 L549.31,472.07 L549.88,473.80 L550.45,475.50 L551.02,477.18 L551.58,478.82 L552.15,480.44 L552.72,482.04 L553.29,483.60 L553.85,485.13 L554.42,486.64 L554.99,488.11 L555.56,489.56 L556.12,490.97 L556.69,492.36 L557.26,493.71 L557.83,495.03 L558.39,496.33 L558.96,497.59 L559.53,498.83 L560.10,500.03 L560.66,501.21 L561.23,502.36 L561.80,503.47 L562.37,504.56 L562.93,505.62 L563.50,506.65 L564.07,507.65 L564.07,533.50 Z" fill="#6478A3" stroke="#1c2438" stroke-width="1"/>
<path d="M385.60,533.47 L386.34,533.47 L387.09,533.46 L387.83,533.46 L388.57,533.45 L389.32,533.45 L390.06,533.44 L390.81,533.44 L391.55,533.43 L392.29,533.42 L393.04,533.41 L393.78,533.40 L394.52,533.39 L395.27,533.38 L396.01,533.37 L396.75,533.36 L397.50,533.34 L398.24,533.33 L398.99,533.31 L399.73,533.29 L400.47,533.27 L401.22,533.25 L401.96,533.23 L402.70,533.20 L403.45,533.17 L404.19,533.14 L404.93,533.11 L405.68,533.07 L406.42,533.03 L407.17,532.99 L407.91,532.94 L408.65,532.89 L409.40,532.83 L410.14,532.78 L410.88,532.71 L411.63,532.64 L412.37,532.57 L413.11,532.49 L413.86,532.40 L414.60,532.31 L415.35,532.21 L416.09,532.10 L416.83,531.99 L417.58,531.87 L418.32,531.73 L419.06,531.59 L419.81,531.44 L420.55,531.28 L421.29,531.11 L422.04,530.92 L422.78,530.72 L423.52,530.51 L424.27,530.29 L425.01,530.05 L425.76,529.79 L426.50,529.52 L427.24,529.23 L427.99,528.92 L428.73,528.60 L429.47,528.25 L430.22,527.89 L430.96,527.50 L431.70,527.09 L432.45,526.66 L433.19,526.20 L433.94,525.72 L434.68,525.21 L435.42,524.67 L436.17,524.10 L436.91,523.51 L437.65,522.88 L438.40,522.22 L439.14,521.53 L439.88,520.80 L440.63,520.04 L441.37,519.24 L442.12,518.41 L442.86,517.53 L443.60,516.62 L444.35,515.66 L445.09,514.67 L445.83,513.63 L446.58,512.54 L447.32,511.42 L448.06,510.24 L448.81,509.02 L449.55,507.76 L450.30,506.44 L451.04,505.08 L451.78,503.66 L452.53,502.20 L453.27,500.69 L454.01,499.13 L454.76,497.51 L455.50,495.84 L456.24,494.13 L456.99,492.36 L457.73,490.54 L458.48,488.67 L459.22,486.74 L459.96,484.77 L460.71,482.74 L461.45,480.67 L462.19,478.55 L462.94,476.38 L463.68,474.16 L464.42,471.89 L465.17,469.58 L465.91,467.23 L466.66,464.84 L467.40,462.40 L468.14,459.93 L468.89,457.42 L469.63,454.88 L470.37,452.30 L471.12,449.70 L471.86,447.06 L472.60,444.40 L473.35,441.72 L474.09,439.02 L474.84,436.31 L475.58,433.58 L476.32,430.84 L477.07,428.10 L477.81,425.35 L478.55,422.61 L479.30,419.86 L480.04,417.13 L480.78,414.41 L481.53,411.70 L482.27,409.01 L483.01,406.35 L483.76,403.71 L484.50,401.10 L485.25,398.53 L485.99,396.00 L486.73,393.52 L487.48,391.08 L488.22,388.69 L488.96,386.36 L489.71,384.09 L490.45,381.88 L491.19,379.74 L491.94,377.67 L492.68,375.68 L493.43,373.76 L494.17,371.93 L494.91,370.18 L495.66,368.52 L496.40,366.95 L497.14,365.48 L497.89,364.10 L498.63,362.82 L499.37,361.65 L500.12,360.58 L500.86,359.61 L501.61,358.76 L502.35,358.01 L503.09,357.38 L503.84,356.86 L504.58,356.45 L505.32,356.16 L506.07,355.98 L506.81,355.92 L507.55,355.97 L508.30,356.14 L509.04,356.42 L509.79,356.82 L510.53,357.33 L511.27,357.96 L512.02,358.70 L512.76,359.54 L513.50,360.50 L514.25,361.56 L514.99,362.73 L515.73,363.99 L516.48,365.36 L517.22,366.83 L517.97,368.39 L518.71,370.04 L519.45,371.79 L520.20,373.61 L520.94,375.52 L521.68,377.51 L522.43,379.57 L523.17,381.71 L523.91,383.91 L524.66,386.18 L525.40,388.50 L526.15,390.89 L526.89,393.32 L527.63,395.80 L528.38,398.33 L529.12,400.90 L529.86,403.50 L530.61,406.13 L531.35,408.80 L532.09,411.48 L532.84,414.19 L533.58,416.91 L534.33,419.64 L535.07,422.39 L535.81,425.13 L536.56,427.88 L537.30,430.62 L538.04,433.36 L538.79,436.09 L539.53,438.81 L540.27,441.51 L541.02,444.19 L541.76,446.85 L542.50,449.49 L543.25,452.09 L543.99,454.67 L544.74,457.22 L545.48,459.73 L546.22,462.21 L546.97,464.64 L547.71,467.04 L548.45,469.40 L549.20,471.71 L549.94,473.98 L550.68,476.20 L551.43,478.37 L552.17,480.50 L552.92,482.58 L553.66,484.61 L554.40,486.59 L555.15,488.51 L555.89,490.39 L556.63,492.21 L557.38,493.99 L558.12,495.71 L558.86,497.38 L559.61,499.00 L560.35,500.57 L561.10,502.08 L561.84,503.55 L562.58,504.97 L563.33,506.33 L564.07,507.65 L564.81,508.92 L565.56,510.15 L566.30,511.32 L567.04,512.45 L567.79,513.54 L568.53,514.58 L569.28,515.58 L570.02,516.54 L570.76,517.46 L571.51,518.34 L572.25,519.18 L572.99,519.98 L573.74,520.74 L574.48,521.47 L575.22,522.17 L575.97,522.83 L576.71,523.46 L577.46,524.06 L578.20,524.63 L578.94,525.17 L579.69,525.68 L580.43,526.16 L581.17,526.62 L581.92,527.06 L582.66,527.47 L583.40,527.86 L584.15,528.23 L584.89,528.57 L585.64,528.90 L586.38,529.21 L587.12,529.50 L587.87,529.77 L588.61,530.03 L589.35,530.27 L590.10,530.49 L590.84,530.71 L591.58,530.90 L592.33,531.09 L593.07,531.27 L593.82,531.43 L594.56,531.58 L595.30,531.72 L596.05,531.86 L596.79,531.98 L597.53,532.10 L598.28,532.20 L599.02,532.30 L599.76,532.40 L600.51,532.48 L601.25,532.56 L601.99,532.64 L602.74,532.71 L603.48,532.77 L604.23,532.83 L604.97,532.89 L605.71,532.94 L606.46,532.98 L607.20,533.03 L607.94,533.07 L608.69,533.10 L609.43,533.14 L610.17,533.17 L610.92,533.20 L611.66,533.22 L612.41,533.25 L613.15,533.27 L613.89,533.29 L614.64,533.31 L615.38,533.33 L616.12,533.34 L616.87,533.36 L617.61,533.37 L618.35,533.38 L619.10,533.39 L619.84,533.40 L620.59,533.41 L621.33,533.42 L622.07,533.43 L622.82,533.44 L623.56,533.44 L624.30,533.45 L625.05,533.45 L625.79,533.46 L626.53,533.46 L627.28,533.47 L628.02,533.47 L628.77,533.47 L629.51,533.47 L630.25,533.48 L631.00,533.48 L631.74,533.48 L632.48,533.48 L633.23,533.49 L633.97,533.49 L634.71,533.49 L635.46,533.49 L636.20,533.49 L636.95,533.49 L637.69,533.49 L638.43,533.49 L639.18,533.49 L639.92,533.49 L640.66,533.50 L641.41,533.50 L642.15,533.50 L642.89,533.50 L643.64,533.50 L644.38,533.50 L645.13,533.50 L645.87,533.50 L646.61,533.50 L647.36,533.50 L648.10,533.50 L648.84,533.50 L649.59,533.50 L650.33,533.50 L651.07,533.50 L651.82,533.50 L652.56,533.50 L653.30,533.50 L654.05,533.50 L654.79,533.50 L655.54,533.50 L656.28,533.50 L657.02,533.50 L657.77,533.50 L658.51,533.50 L659.25,533.50 L660.00,533.50 L660.74,533.50 L661.48,533.50 L662.23,533.50 L662.97,533.50 L663.72,533.50 L664.46,533.50 L665.20,533.50 L665.95,533.50 L666.69,533.50 L667.43,533.50 L668.18,533.50 L668.92,533.50 L669.66,533.50 L670.41,533.50 L671.15,533.50 L671.90,533.50 L672.64,533.50 L673.38,533.50 L674.13,533.50 L674.87,533.50 L675.61,533.50 L676.36,533.50 L677.10,533.50 L677.84,533.50 L678.59,533.50 L679.33,533.50 L680.08,533.50 L680.82,533.50 L681.56,533.50 L682.31,533.50 L683.05,533.50" fill="none" stroke="#000" stroke-width="1.85" stroke-linejoin="round"/>
<path d="M495.39,535.05 L498.39,530.55 L501.39,535.05 Z" fill="none" stroke="#000" stroke-width="1.2" stroke-linejoin="miter"/>
<rect x="586.60" y="323.60" width="92.60" height="35.80" fill="#fff" stroke="#000" stroke-width="1.7"/>
<rect x="591.10" y="326.30" width="24.2" height="12.6" fill="#6478A3" stroke="#1c2438" stroke-width="1"/>
<text x="618.10" y="337.50" font-size="13.5" textLength="57.2" lengthAdjust="spacingAndGlyphs">95% PINC</text>
<path d="M600.50,350.95 L603.50,346.45 L606.50,350.95 Z" fill="none" stroke="#000" stroke-width="1.2" stroke-linejoin="miter"/>
<text x="618.10" y="355.00" font-size="13.5">Measured</text>
<text x="382.30" y="538.40" font-size="13.5" text-anchor="end">0</text>
<text x="382.30" y="431.10" font-size="13.5" text-anchor="end">0.1</text>
<text x="382.30" y="323.80" font-size="13.5" text-anchor="end">0.2</text>
<text x="385.60" y="547.60" font-size="13.5" text-anchor="middle">0</text>
<text x="445.09" y="547.60" font-size="13.5" text-anchor="middle">5</text>
<text x="504.58" y="547.60" font-size="13.5" text-anchor="middle">10</text>
<text x="564.07" y="547.60" font-size="13.5" text-anchor="middle">15</text>
<text x="623.56" y="547.60" font-size="13.5" text-anchor="middle">20</text>
<text x="533.43" y="562.20" font-size="13.5" text-anchor="middle" textLength="93.9" lengthAdjust="spacingAndGlyphs">Wind speed (m/s)</text>
<text transform="translate(359.40,427.95) rotate(-90)" font-size="13.5" text-anchor="middle" textLength="81.6" lengthAdjust="spacingAndGlyphs">Predictive PDF</text>
<text x="531.73" y="596.10" font-size="17" text-anchor="middle">(d) <tspan font-style="italic">y</tspan><tspan font-size="11" dy="1.6">max</tspan><tspan dy="-1.6">(298)</tspan></text>
</svg></body></html>
